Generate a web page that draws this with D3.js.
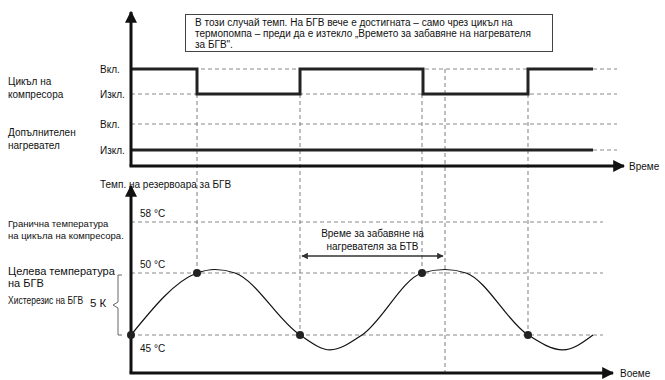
<!DOCTYPE html>
<html><head><meta charset="utf-8">
<script src="https://cdn.jsdelivr.net/npm/d3@7"></script>
<style>
body{margin:0;background:#fff;}
svg{font-family:"Liberation Sans",Arial,sans-serif;}
</style></head>
<body>
<svg id="c" width="665" height="380"></svg>
<script>
// ---- data ----
const stateLabels = ["Изкл.", "Вкл."];
const compTimes = [0, 66, 169, 292, 397, 462];
const compStates = [1, 0, 1, 0, 1, 1];
const auxTimes = [0, 462];
const auxStates = [0, 0];
const tempTicks = [58, 50, 45];
const tempTickLabels = ["58 °C", "50 °C", "45 °C"];
const curveTimes = [0, 66, 84, 104, 169, 199, 231, 291, 314, 335, 397, 432, 462];
const curveTemps = [45, 50, 50.55, 50, 45, 43.8, 45, 50, 50.55, 50, 45, 43.8, 45];
const markerTimes = [0, 66, 169, 291, 397];
const markerTemps = [45, 50, 45, 50, 45];
const delayStart = 169, delayEnd = 314;
const boxLines = ["В този случай темп. На БГВ вече е достигната – само чрез цикъл на",
  "термопомпа – преди да е изтекло „Времето за забавяне на нагревателя",
  "за БГВ\"."];

const svg = d3.select("#c");
const x = d3.scaleLinear().domain([0, 500]).range([131, 631]);
const compY = d3.scaleLinear().domain([0, 1]).range([94, 69]);
const auxY = d3.scaleLinear().domain([0, 1]).range([150, 124]);
const tY = d3.scaleLinear().domain([45, 50, 58]).range([335, 273, 222]);

const ink = "#222", grid = "#8a8a8a";
const defs = svg.append("defs");
defs.append("marker").attr("id","ah").attr("viewBox","0 0 10 10").attr("refX",9).attr("refY",5)
  .attr("markerWidth",4).attr("markerHeight",4).attr("orient","auto-start-reverse").attr("markerUnits","strokeWidth")
  .append("path").attr("d","M0,0L10,5L0,10z").attr("fill","#111");
defs.append("marker").attr("id","ah2").attr("viewBox","0 0 10 10").attr("refX",9).attr("refY",5)
  .attr("markerWidth",7).attr("markerHeight",5).attr("orient","auto-start-reverse").attr("markerUnits","strokeWidth")
  .append("path").attr("d","M0,0L10,5L0,10z").attr("fill","#333");

function dash(x1,y1,x2,y2){
  svg.append("line").attr("x1",x1).attr("y1",y1).attr("x2",x2).attr("y2",y2)
    .attr("stroke",grid).attr("stroke-width",1.1).attr("stroke-dasharray","4,3");
}
function txt(s,xx,yy,size,opt={}){
  const t = svg.append("text").attr("x",xx).attr("y",yy).attr("font-size",size).attr("fill","#111").text(s);
  if(opt.anchor) t.attr("text-anchor",opt.anchor);
  if(opt.transform) t.attr("transform",opt.transform);
  return t;
}

// ---- top panel grid ----
[1,0].forEach(s=>dash(x(0), compY(s), x(486), compY(s)));
[1,0].forEach(s=>dash(x(0), auxY(s), x(486), auxY(s)));
// vertical dashed
[[66,compY(0),tY(50)],[169,compY(0),tY(45)],[291,compY(0),tY(50)],[314,compY(1),373],[397,compY(0),tY(45)]]
  .forEach(d=>dash(x(d[0]),d[1],x(d[0]),d[2]));

// ---- bottom panel grid ----
tempTicks.forEach(v=>dash(x(0), tY(v), x(472), tY(v)));

// compressor step line
svg.append("path").datum(compTimes.map((t,i)=>[t,compStates[i]]))
  .attr("d", d3.line().x(d=>x(d[0])).y(d=>compY(d[1])).curve(d3.curveStepAfter))
  .attr("fill","none").attr("stroke",ink).attr("stroke-width",3);
// aux line
svg.append("path").datum(auxTimes.map((t,i)=>[t,auxStates[i]]))
  .attr("d", d3.line().x(d=>x(d[0])).y(d=>auxY(d[1])))
  .attr("fill","none").attr("stroke",ink).attr("stroke-width",3);

// axes top
svg.append("line").attr("x1",x(0)).attr("y1",166).attr("x2",x(0)).attr("y2",12)
  .attr("stroke","#111").attr("stroke-width",3).attr("marker-end","url(#ah)");
svg.append("line").attr("x1",x(0)-1.5).attr("y1",166).attr("x2",x(493)).attr("y2",166)
  .attr("stroke","#111").attr("stroke-width",3).attr("marker-end","url(#ah)");
txt("Време", 629, 170, 10);

// axes bottom
svg.append("line").attr("x1",x(0)).attr("y1",373).attr("x2",x(0)).attr("y2",186)
  .attr("stroke","#111").attr("stroke-width",3).attr("marker-end","url(#ah)");
svg.append("line").attr("x1",x(0)-1.5).attr("y1",373).attr("x2",x(482)).attr("y2",373)
  .attr("stroke","#111").attr("stroke-width",3).attr("marker-end","url(#ah)");
txt("Воеме", 620, 377, 10);

// temperature curve
svg.append("path").datum(curveTimes.map((t,i)=>[t,curveTemps[i]]))
  .attr("d", d3.line().x(d=>x(d[0])).y(d=>tY(d[1])).curve(d3.curveMonotoneX))
  .attr("fill","none").attr("stroke","#111").attr("stroke-width",1.2);
svg.selectAll("circle.m").data(markerTimes.map((t,i)=>[t,markerTemps[i]])).enter().append("circle")
  .attr("cx",d=>x(d[0])).attr("cy",d=>tY(d[1])).attr("r",4).attr("fill","#222");

// delay arrow
svg.append("line").attr("x1",x(delayStart)+2).attr("y1",256).attr("x2",x(delayEnd)-2).attr("y2",256)
  .attr("stroke","#333").attr("stroke-width",1.3)
  .attr("marker-start","url(#ah2)").attr("marker-end","url(#ah2)");
txt("Време за забавяне на", (x(delayStart)+x(delayEnd))/2, 237, 10, {anchor:"middle"});
txt("нагревателя за БТВ", (x(delayStart)+x(delayEnd))/2, 250, 10, {anchor:"middle"});

// labels top
txt("Вкл.", 100, compY(1)+4, 10);
txt("Изкл.", 100, compY(0)+4, 10);
txt("Вкл.", 100, auxY(1)+4, 10);
txt("Изкл.", 100, auxY(0)+4, 10);
txt("Цикъл на", 8, 85, 10);
txt("компресора", 8, 98, 10);
txt("Допълнителен", 8, 136, 10);
txt("нагревател", 8, 149, 10);

// text box
svg.append("rect").attr("x",185.5).attr("y",14.5).attr("width",367).attr("height",37)
  .attr("fill","#fff").attr("stroke","#444").attr("stroke-width",1);
boxLines.forEach((s,i)=>txt(s,195,26+i*11,10));

// labels bottom
txt("Темп. на резервоара за БГВ", 100, 188, 10);
tempTicks.forEach((v,i)=>{
  const yy = v===45 ? tY(v)+17 : tY(v)-5;
  txt(tempTickLabels[i], 140, yy, 10);
});
txt("Гранична температура", 8, 227, 9.5);
txt("на цикъла на компресора.", 8, 239, 9.5);
txt("Целева температура", 8, 275, 11);
txt("на БГВ", 8, 287, 11);
txt("Хистерезис на БГВ", 0, 0, 10, {transform:"translate(8,304) scale(0.85,1)"});
txt("5 К", 90, 307, 11.5);
// brace
svg.append("path")
  .attr("d", `M122,${tY(50)+2} L118,${tY(50)+2} L118,${(tY(50)+tY(45))/2-2} L113,${(tY(50)+tY(45))/2+1} L118,${(tY(50)+tY(45))/2+4} L118,${tY(45)} L122,${tY(45)}`)
  .attr("fill","none").attr("stroke","#666").attr("stroke-width",1);
</script>
</body></html>
